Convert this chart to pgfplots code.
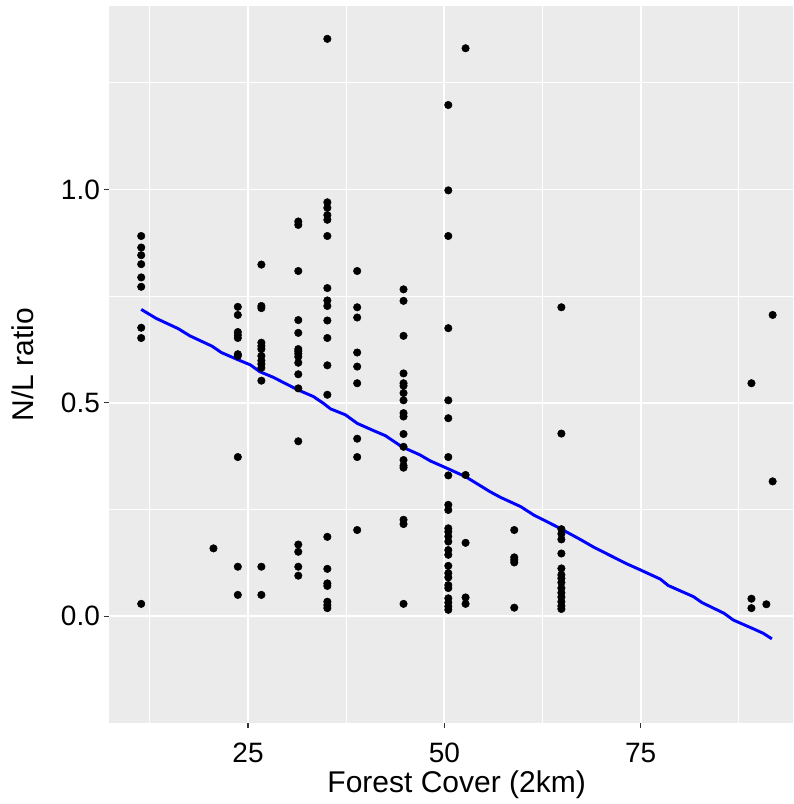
\documentclass[border=0pt]{standalone}
\usepackage{fontspec}
\setmainfont{Liberation Sans}
\usepackage{pgfplots}
\pgfplotsset{compat=1.18}
\definecolor{panelbg}{HTML}{EBEBEB}
\definecolor{tickc}{HTML}{333333}

\begin{document}
\begin{tikzpicture}
  \begin{axis}[
      scale only axis, width=512.8pt, height=538pt,
      xmin=7.34, xmax=94.4, ymin=-0.251, ymax=1.430,
      axis background/.style={fill=panelbg},
      axis line style={draw=none},
      xtick={25,50,75}, xticklabels={25,50,75},
      ytick={0,0.5,1}, yticklabels={0.0,0.5,1.0},
      minor xtick={12.5,37.5,62.5,87.5}, minor ytick={0.25,0.75,1.25},
      grid=both,
      major grid style={draw=white, line width=1.4pt},
      minor grid style={draw=white, line width=0.75pt},
      tick align=outside, xtick pos=bottom, ytick pos=left,
      major tick length=3.7pt, minor tick length=0pt,
      tick style={draw=tickc, line width=0.8pt},
      ticklabel style={font=\fontsize{21}{21}\selectfont, inner sep=0pt},
      xticklabel style={anchor=base, yshift=-26pt},
      yticklabel style={anchor=east, xshift=-3.2pt},
      xlabel={Forest Cover (2km)}, ylabel={N/L ratio},
      label style={font=\fontsize{22.5}{22.5}\selectfont, inner sep=0pt},
      xlabel style={at={(axis description cs:0.508,-0.0967)}, anchor=base},
      ylabel style={at={(axis description cs:-0.1112,0.5)}, anchor=base},
    ]
    \coordinate (axsw) at (rel axis cs:0,0);
    \coordinate (axne) at (rel axis cs:1,1);

    \addplot[only marks, mark=*, mark size=2.8pt, black] coordinates {
      (11.4,0.891) (11.4,0.864) (11.4,0.846) (11.4,0.825) (11.4,0.794) (11.4,0.772) (11.4,0.676) (11.4,0.652) (11.4,0.029)
      (20.6,0.159)
      (23.7,0.725) (23.7,0.706) (23.7,0.666) (23.7,0.659) (23.7,0.652) (23.7,0.614) (23.7,0.610) (23.7,0.373) (23.7,0.116) (23.7,0.050)
      (26.7,0.824) (26.7,0.727) (26.7,0.722) (26.7,0.641) (26.7,0.633) (26.7,0.626) (26.7,0.610) (26.7,0.599) (26.7,0.591) (26.7,0.582) (26.7,0.552) (26.7,0.116) (26.7,0.050)
      (31.4,0.925) (31.4,0.917) (31.4,0.809) (31.4,0.694) (31.4,0.664) (31.4,0.626) (31.4,0.621) (31.4,0.615) (31.4,0.608) (31.4,0.594) (31.4,0.567) (31.4,0.534) (31.4,0.410) (31.4,0.168) (31.4,0.151) (31.4,0.116) (31.4,0.095)
      (35.1,1.353) (35.1,0.970) (35.1,0.957) (35.1,0.940) (35.1,0.929) (35.1,0.891) (35.1,0.769) (35.1,0.740) (35.1,0.727) (35.1,0.693) (35.1,0.652) (35.1,0.588) (35.1,0.519) (35.1,0.186) (35.1,0.111) (35.1,0.077) (35.1,0.071) (35.1,0.034) (35.1,0.026) (35.1,0.019)
      (38.9,0.809) (38.9,0.724) (38.9,0.700) (38.9,0.618) (38.9,0.585) (38.9,0.546) (38.9,0.416) (38.9,0.373) (38.9,0.202)
      (44.8,0.766) (44.8,0.739) (44.8,0.657) (44.8,0.569) (44.8,0.546) (44.8,0.540) (44.8,0.523) (44.8,0.506) (44.8,0.476) (44.8,0.468) (44.8,0.427) (44.8,0.397) (44.8,0.366) (44.8,0.353) (44.8,0.348) (44.8,0.226) (44.8,0.216) (44.8,0.029)
      (50.5,1.198) (50.5,0.998) (50.5,0.891) (50.5,0.675) (50.5,0.506) (50.5,0.464) (50.5,0.373) (50.5,0.330) (50.5,0.261) (50.5,0.249) (50.5,0.206) (50.5,0.198) (50.5,0.187) (50.5,0.175) (50.5,0.155) (50.5,0.144) (50.5,0.118) (50.5,0.101) (50.5,0.091) (50.5,0.073) (50.5,0.066) (50.5,0.042) (50.5,0.032) (50.5,0.023) (50.5,0.015)
      (52.7,1.331) (52.7,0.331) (52.7,0.172) (52.7,0.044) (52.7,0.029)
      (58.9,0.202) (58.9,0.138) (58.9,0.132) (58.9,0.126) (58.9,0.020)
      (64.9,0.724) (64.9,0.428) (64.9,0.204) (64.9,0.193) (64.9,0.180) (64.9,0.147) (64.9,0.112) (64.9,0.097) (64.9,0.089) (64.9,0.079) (64.9,0.066) (64.9,0.055) (64.9,0.045) (64.9,0.034) (64.9,0.024) (64.9,0.017)
      (89.1,0.546) (89.1,0.041) (89.1,0.019)
      (91.0,0.028)
      (91.8,0.706) (91.8,0.316)
    };

    % fitted trend
    \addplot[blue, line width=2.2pt] coordinates {
      (11.4,0.719) (13.3,0.698) (16.1,0.674) (17.6,0.657) (20.4,0.633) (21.6,0.618) (23.6,0.602)
      (25.3,0.589) (26.5,0.573) (28.2,0.560) (29.9,0.544) (31.4,0.530) (33.3,0.515) (34.6,0.499)
      (35.5,0.486) (37.4,0.472) (38.9,0.452) (40.6,0.438) (42.5,0.423) (44.6,0.397) (46.9,0.378)
      (48.2,0.364) (50.3,0.347) (52.7,0.327) (55.8,0.292) (57.1,0.279) (59.7,0.257) (61.4,0.237)
      (64.3,0.210) (67.3,0.180) (69.0,0.162) (73.2,0.123) (74.9,0.109) (77.5,0.087) (78.5,0.072)
      (81.7,0.046) (82.8,0.032) (85.6,0.007) (86.8,-0.009) (89.4,-0.030) (90.6,-0.040) (91.7,-0.053)
    };
  \end{axis}
  \pgfresetboundingbox
  \path[use as bounding box] ([xshift=-82pt,yshift=-60.5pt]axsw) rectangle ([yshift=4.5pt]axne);
\end{tikzpicture}
\end{document}
